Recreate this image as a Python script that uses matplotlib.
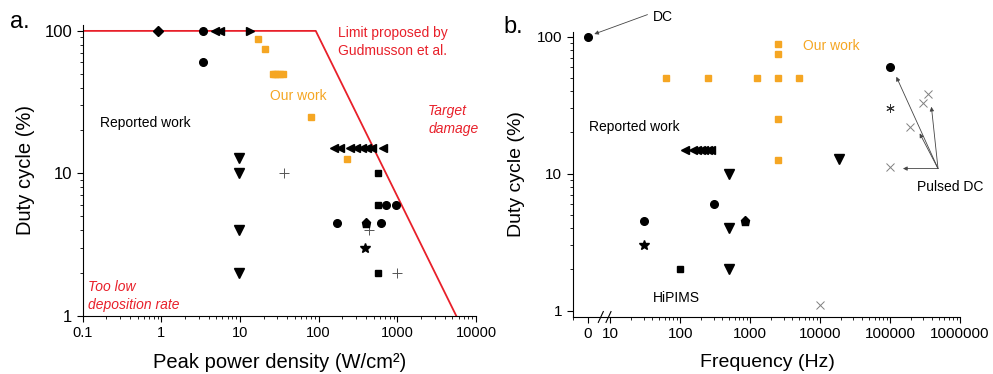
import matplotlib
matplotlib.use('Agg')
import matplotlib.pyplot as plt

plt.rcParams['font.family'] = ['Liberation Sans', 'DejaVu Sans']

LARANJA = '#F5A623'
VERMELHO = '#E8202A'
CINZA = '#808080'

# ---- painel a: potência de pico (W/cm²) x ciclo de trabalho (%) ----
nosso_pot = [17, 20.6, 26, 28, 30, 32, 35, 80, 229]
nosso_duty_a = [88, 75, 50, 50, 50, 50, 50, 25, 12.5]

limite_pot = [0.1, 92, 5600]
limite_duty = [100, 100, 1]

a_diamante_p, a_diamante_d = [0.9], [100]
a_circulo_p = [3.4, 3.4, 171, 624, 723, 968]
a_circulo_d = [100, 60, 4.5, 4.5, 6, 6]
a_esq_p = [4.8, 5.6, 158, 188, 252, 301, 360, 417, 482, 656]
a_esq_d = [100, 100, 15, 15, 15, 15, 15, 15, 15, 15]
a_dir_p, a_dir_d = [13.5], [100]
a_baixo_p = [9.6, 9.6, 9.6, 9.6]
a_baixo_d = [12.8, 10, 4, 2]
a_quad_p = [566, 566, 566]
a_quad_d = [10, 6, 2]
a_pent_p, a_pent_d = [403], [4.5]
a_estrela_p, a_estrela_d = [391], [3]
a_mais_p = [36, 435, 990]
a_mais_d = [10, 4, 2]

# ---- painel b: frequência (Hz) x ciclo de trabalho (%) ----
nosso_freq = [62.5, 250, 1250, 2500, 5000, 2500, 2500, 2500, 2500]
nosso_duty_b = [50, 50, 50, 50, 50, 88, 75, 25, 12.5]

b_circulo_f = [0, 30, 300, 100000]
b_circulo_d = [100, 4.5, 6, 60]
b_esq_f = [117, 150, 172, 195, 220, 248, 275]
b_esq_d = [15, 15, 15, 15, 15, 15, 15]
b_baixo_f = [500, 500, 500, 18500]
b_baixo_d = [10, 4, 2, 12.7]
b_quad_f, b_quad_d = [100], [2]
b_pent_f, b_pent_d = [840], [4.5]
b_estrela_f, b_estrela_d = [30], [3]
b_x_f = [10000, 100000, 195000, 300000, 350000]
b_x_d = [1.1, 11.2, 22, 33, 38]
b_ast_f, b_ast_d = [100000], [30]

# posição onde o "0" é desenhado no eixo log quebrado
POS_ZERO = 4.75


def pos_freq(lista):
    return [POS_ZERO if f == 0 else f for f in lista]


fig = plt.figure(figsize=(9.93, 3.74), dpi=100)
ax1 = fig.add_axes([82.5 / 993, 58.3 / 374, 393.5 / 993, 290.7 / 374])
ax2 = fig.add_axes([572.7 / 993, 57.3 / 374, 387.3 / 993, 285 / 374])

preto = dict(color='black', linestyle='none', clip_on=False, zorder=3)

# ---- painel a ----
ax1.plot(limite_pot, limite_duty, color=VERMELHO, lw=1.3, zorder=2)
ax1.plot(a_diamante_p, a_diamante_d, marker='D', ms=5, **preto)
ax1.plot(a_circulo_p, a_circulo_d, marker='o', ms=5.5, **preto)
ax1.plot(a_esq_p, a_esq_d, marker='<', ms=6, **preto)
ax1.plot(a_dir_p, a_dir_d, marker='>', ms=6, **preto)
ax1.plot(a_baixo_p, a_baixo_d, marker='v', ms=6.5, **preto)
ax1.plot(a_quad_p, a_quad_d, marker='s', ms=5, **preto)
ax1.plot(a_pent_p, a_pent_d, marker='p', ms=6.5, **preto)
ax1.plot(a_estrela_p, a_estrela_d, marker='*', ms=7, **preto)
ax1.plot(a_mais_p, a_mais_d, marker='+', ms=7, mew=0.7, color='#555555', linestyle='none')
ax1.plot(nosso_pot, nosso_duty_a, marker='s', ms=5, color=LARANJA, linestyle='none', zorder=3)

ax1.set_xscale('log')
ax1.set_yscale('log')
ax1.set_xlim(0.1, 10000)
ax1.set_ylim(1, 110)
ax1.set_xticks([0.1, 1, 10, 100, 1000, 10000])
ax1.set_xticklabels(['0.1', '1', '10', '100', '1000', '10000'])
ax1.set_yticks([1, 10, 100])
ax1.set_yticklabels(['1', '10', '100'])
ax1.tick_params(axis='x', labelsize=10.5)
ax1.tick_params(axis='y', labelsize=12)

ax1.text(176, 83, 'Limit proposed by\nGudmusson et al.', color=VERMELHO, fontsize=10,
         va='center', ha='left', linespacing=1.35)
ax1.text(23.8, 34.8, 'Our work', color=LARANJA, fontsize=10, va='center')
ax1.text(0.168, 22.6, 'Reported work', color='black', fontsize=10, va='center')
ax1.text(2470, 23.6, 'Target\ndamage', color=VERMELHO, fontsize=10, style='italic',
         va='center', linespacing=1.35)
ax1.text(0.119, 1.38, 'Too low\ndeposition rate', color=VERMELHO, fontsize=10, style='italic',
         va='center', linespacing=1.35)
ax1.set_xlabel('Peak power density (W/cm²)', fontsize=14.5, va='center')
ax1.set_ylabel('Duty cycle (%)', fontsize=14.5, va='center')
ax1.xaxis.set_label_coords(0.502, -0.162)
ax1.yaxis.set_label_coords(-0.146, 0.5)

# ---- painel b ----
ax2.plot(pos_freq(b_circulo_f), b_circulo_d, marker='o', ms=5.5, **preto)
ax2.plot(b_esq_f, b_esq_d, marker='<', ms=6, **preto)
ax2.plot(b_baixo_f, b_baixo_d, marker='v', ms=6.5, **preto)
ax2.plot(b_quad_f, b_quad_d, marker='s', ms=5, **preto)
ax2.plot(b_pent_f, b_pent_d, marker='p', ms=6.5, **preto)
ax2.plot(b_estrela_f, b_estrela_d, marker='*', ms=7, **preto)
ax2.plot(b_x_f, b_x_d, marker='x', ms=6, mew=0.7, color=CINZA, linestyle='none')
ax2.plot(b_ast_f, b_ast_d, marker=(6, 2, 0), ms=6, mew=0.7, color='#333333', linestyle='none')
ax2.plot(pos_freq(nosso_freq), nosso_duty_b, marker='s', ms=5, color=LARANJA, linestyle='none', zorder=3)

ax2.set_xscale('log')
ax2.set_yscale('log')
ax2.set_xlim(2.9, 1e6)
ax2.set_ylim(0.904, 108.8)
ax2.set_xticks([POS_ZERO, 10, 100, 1000, 10000, 100000, 1000000])
ax2.set_xticklabels(['0', '10', '100', '1000', '10000', '100000', '1000000'])
menores = [m * 10 ** e for e in range(1, 6) for m in range(2, 10)] + [2.9]
ax2.set_xticks(menores, minor=True)
ax2.set_xticklabels([], minor=True)
ax2.set_yticks([1, 10, 100])
ax2.set_yticklabels(['1', '10', '100'])
ax2.tick_params(labelsize=11)

# marcas de quebra do eixo
for x0 in [598.3, 606]:
    xa = (x0 - 572.7) / 387.3
    xb = (x0 + 5 - 572.7) / 387.3
    ax2.plot([xa, xb], [-0.02, 0.018], color='black', lw=0.8, transform=ax2.transAxes, clip_on=False)

seta = dict(arrowstyle='-|>', color='#444444', lw=0.6, mutation_scale=6, shrinkA=0, shrinkB=0)
ax2.text(41, 140, 'DC', fontsize=10, va='center')
ax2.annotate('', xy=(5.9, 104.6), xytext=(34, 145), arrowprops=seta, annotation_clip=False)
ax2.text(5720, 85.5, 'Our work', color=LARANJA, fontsize=10, va='center')
ax2.text(4.9, 21.9, 'Reported work', fontsize=10, va='center')
ax2.text(40.4, 1.23, 'HiPIMS', fontsize=10, va='center')
ax2.text(2.45e5, 8.0, 'Pulsed DC', fontsize=10, va='center')
for alvo in [(1.23e5, 51), (3.9e5, 30.8), (2.65e5, 19.7), (1.53e5, 10.9)]:
    ax2.annotate('', xy=alvo, xytext=(4.85e5, 10.9), arrowprops=seta)
ax2.set_xlabel('Frequency (Hz)', fontsize=14, va='center')
ax2.set_ylabel('Duty cycle (%)', fontsize=14, va='center')
ax2.xaxis.set_label_coords(0.502, -0.162)
ax2.yaxis.set_label_coords(-0.144, 0.5)

for ax in (ax1, ax2):
    ax.spines['top'].set_visible(False)
    ax.spines['right'].set_visible(False)
    ax.spines['left'].set_linewidth(0.8)
    ax.spines['bottom'].set_linewidth(0.8)
    ax.tick_params(which='major', direction='out', length=4, width=0.8)
    ax.tick_params(which='minor', direction='out', length=2.5, width=0.6)

fig.text(10 / 993, 1 - 28 / 374, 'a.', fontsize=17, va='baseline')
fig.text(503 / 993, 1 - 33 / 374, 'b.', fontsize=17, va='baseline')

plt.savefig('out.png', dpi=100)
